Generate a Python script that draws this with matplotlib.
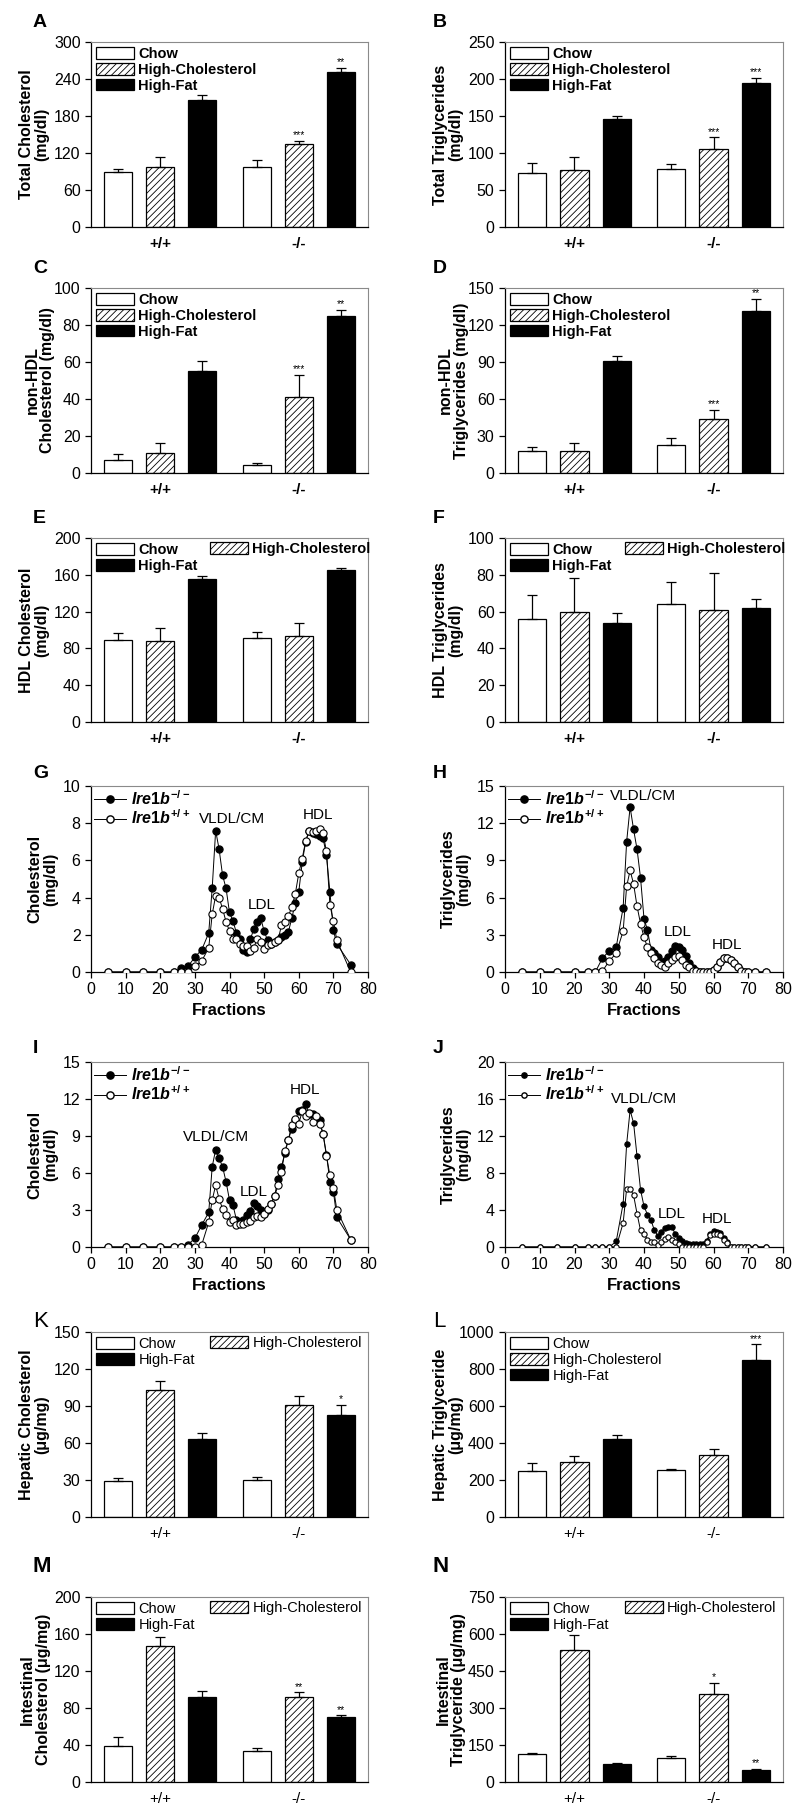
import matplotlib
matplotlib.use('Agg')
import matplotlib.pyplot as plt
from matplotlib.patches import Patch
from matplotlib.lines import Line2D
import numpy as np

BASE = ['Liberation Sans', 'DejaVu Sans']
plt.rcParams['font.family'] = BASE
plt.rcParams['hatch.linewidth'] = 0.6
plt.rcParams['mathtext.fontset'] = 'custom'
plt.rcParams['mathtext.it'] = 'Liberation Sans:italic:bold'
plt.rcParams['mathtext.rm'] = 'Liberation Sans:bold'
plt.rcParams['mathtext.bf'] = 'Liberation Sans:bold'

diets = ['Chow', 'High-Cholesterol', 'High-Fat']
genotypes = ['+/+', '-/-']

# bar data, order: +/+ Chow, HC, HF, -/- Chow, HC, HF
tc_mean = [90, 98, 206, 97, 134, 252]
tc_err = [4, 15, 8, 11, 6, 6]
tc_sig = ['', '', '', '', '***', '**']

tg_mean = [73, 77, 146, 78, 105, 195]
tg_err = [13, 17, 4, 7, 16, 7]
tg_sig = ['', '', '', '', '***', '***']

nhdl_c_mean = [7, 11, 55, 4.5, 41, 85]
nhdl_c_err = [3.5, 5, 5.5, 1, 12, 3]
nhdl_c_sig = ['', '', '', '', '***', '**']

nhdl_tg_mean = [18, 18, 91, 23, 44, 131]
nhdl_tg_err = [3, 6, 4, 5, 7, 10]
nhdl_tg_sig = ['', '', '', '', '***', '**']

hdl_c_mean = [89, 88, 155, 91, 93, 165]
hdl_c_err = [8, 14, 4, 7, 15, 2]

hdl_tg_mean = [56, 60, 54, 64, 61, 62]
hdl_tg_err = [13, 18, 5, 12, 20, 5]

hep_c_mean = [29, 103, 63, 30, 91, 83]
hep_c_err = [3, 7, 5, 2.5, 7, 8]
hep_c_sig = ['', '', '', '', '', '*']

hep_tg_mean = [250, 300, 420, 255, 335, 848]
hep_tg_err = [42, 28, 22, 3, 32, 85]
hep_tg_sig = ['', '', '', '', '', '***']

int_c_mean = [39, 147, 92, 34, 92, 70]
int_c_err = [10, 10, 6, 2.5, 5, 2]
int_c_sig = ['', '', '', '', '**', '**']

int_tg_mean = [113, 535, 72, 97, 355, 50]
int_tg_err = [6, 62, 5, 10, 48, 3]
int_tg_sig = ['', '', '', '', '*', '**']

# FPLC profiles
frac_g = [5, 10, 15, 20, 24, 26, 28, 30, 32, 34, 35, 36, 37, 38, 39, 40, 41, 42, 43,
          44, 45, 46, 47, 48, 49, 50, 51, 52, 53, 54, 55, 56, 57, 58, 59, 60, 61, 62,
          63, 64, 65, 66, 67, 68, 69, 70, 71, 75]
g_ko = [0, 0, 0, 0, 0, 0.2, 0.3, 0.8, 1.2, 2.1, 4.5, 7.6, 6.6, 5.2, 4.5, 3.2, 2.75, 2.1,
        1.8, 1.2, 1.05, 1.75, 2.3, 2.7, 2.9, 2.2, 1.7, 1.5, 1.6, 1.7, 1.9, 2.0, 2.15, 2.9,
        3.7, 4.3, 5.9, 7.0, 7.6, 7.45, 7.4, 7.3, 7.2, 6.3, 4.3, 2.25, 1.5, 0.4]
g_wt = [0, 0, 0, 0, 0, 0, 0, 0.3, 0.6, 1.3, 3.1, 4.1, 4.0, 3.4, 2.7, 2.2, 1.8, 1.75,
        1.5, 1.4, 1.4, 1.15, 1.3, 1.8, 1.6, 1.25, 1.45, 1.5, 1.6, 1.7, 2.5, 2.7, 3.0, 3.5,
        4.2, 5.3, 6.1, 7.05, 7.6, 7.55, 7.6, 7.7, 7.45, 6.5, 3.6, 2.75, 1.7, 0]

frac_h = [5, 10, 15, 20, 24, 26, 28, 30, 32, 34, 35, 36, 37, 38, 39, 40, 41, 42, 43,
          44, 45, 46, 47, 48, 49, 50, 51, 52, 53, 54, 55, 56, 57, 58, 59, 60, 61, 62,
          63, 64, 65, 66, 67, 68, 69, 70, 72, 75]
h_ko = [0, 0, 0, 0, 0, 0, 1.1, 1.7, 2.0, 5.2, 10.5, 13.3, 11.5, 9.9, 7.6, 4.3, 3.4, 1.8,
        1.5, 1.2, 0.8, 0.9, 1.2, 1.7, 2.1, 2.0, 1.8, 1.3, 0.7, 0.3, 0.05, 0, 0, 0,
        0, 0.2, 0.4, 0.8, 1.1, 1.15, 1.0, 0.7, 0.4, 0.1, 0, 0, 0, 0]
h_wt = [0, 0, 0, 0, 0, 0, 0.05, 0.9, 1.5, 3.3, 6.9, 8.2, 7.1, 5.3, 3.9, 2.8, 2.0, 1.5,
        1.1, 0.75, 0.6, 0.4, 0.7, 1.0, 1.2, 1.3, 1.0, 0.6, 0.4, 0.1, 0.05, 0, 0, 0,
        0, 0.2, 0.4, 0.8, 1.1, 1.15, 1.0, 0.7, 0.4, 0.1, 0, 0, 0, 0]

frac_i = frac_g
i_ko = [0, 0, 0, 0, 0, 0, 0.2, 0.7, 1.8, 2.8, 6.5, 7.9, 7.2, 6.5, 5.3, 3.8, 3.4, 2.2,
        2.0, 2.2, 2.6, 2.9, 3.6, 3.3, 3.0, 2.7, 3.0, 3.5, 4.1, 5.5, 6.5, 7.6, 8.7, 9.6,
        10.3, 11.0, 11.1, 11.6, 10.8, 10.8, 10.3, 10.3, 9.2, 7.5, 5.3, 4.5, 2.4, 0.6]
i_wt = [0, 0, 0, 0, 0, 0, 0, 0, 0.2, 2.0, 3.8, 5.0, 3.9, 3.1, 2.6, 2.0, 2.2, 1.8,
        1.9, 1.9, 2.0, 2.1, 2.4, 2.5, 2.4, 2.7, 3.1, 3.5, 4.1, 5.0, 6.1, 7.8, 8.7, 9.9,
        10.4, 10.0, 11.0, 10.6, 10.9, 10.1, 10.6, 10.0, 9.2, 7.4, 5.8, 4.8, 3.0, 0.6]

frac_j = frac_h
j_ko = [0, 0, 0, 0, 0, 0, 0, 0, 0.6, 4.7, 11.1, 14.8, 13.4, 9.8, 6.2, 4.4, 3.5, 2.9,
        1.8, 1.2, 1.6, 2.1, 2.2, 2.2, 1.4, 1.0, 0.6, 0.4, 0.3, 0.3, 0.3, 0.3, 0.3, 0.7,
        1.4, 1.7, 1.6, 1.5, 1.0, 0.5, 0, 0, 0, 0, 0, 0, 0, 0]
j_wt = [0, 0, 0, 0, 0, 0, 0, 0, 0, 2.6, 6.3, 6.3, 5.6, 3.6, 1.8, 1.4, 0.8, 0.5,
        0.5, 0.2, 0.5, 0.9, 1.1, 0.8, 0.5, 0.3, 0, 0, 0, 0, 0, 0, 0, 0.5,
        1.3, 1.4, 1.4, 1.3, 0.8, 0.4, 0, 0, 0, 0, 0, 0, 0, 0]

W, H = 800, 1812
fig = plt.figure(figsize=(W / 100, H / 100), dpi=100)

COLS = [(91, 368), (505, 783)]
ROWS = [(42, 227), (288, 473), (538, 722), (786, 972), (1062, 1247), (1332, 1517), (1597, 1782)]
LETTER_Y = [27, 273, 523, 778, 1053, 1327, 1572]
LETTER_X = [33, 433]

pos = [0, 1, 2, 3.29, 4.29, 5.29]
FRAME = '#8a8a8a'


def make_axes(row, col):
    l, r = COLS[col]
    t, b = ROWS[row]
    return fig.add_axes([l / W, 1 - b / H, (r - l) / W, (b - t) / H])


def letter(row, col, s, size=14, weight='bold'):
    fig.text(LETTER_X[col] / W, 1 - LETTER_Y[row] / H, s, fontsize=size,
             fontweight=weight, va='baseline', ha='left')


def style_frame(ax):
    ax.spines['top'].set_color(FRAME)
    ax.spines['right'].set_color(FRAME)
    for s in ['left', 'bottom']:
        ax.spines[s].set_linewidth(0.9)


def bar_panel(ax, means, errs, sig, ymax, ystep, ylabel, ncol, labx, plain=False):
    faces = ['white', 'white', 'black'] * 2
    hatches = ['', '/////', ''] * 2
    for i in range(6):
        ax.bar(pos[i], means[i], width=0.667, color=faces[i], edgecolor='black',
               hatch=hatches[i], linewidth=0.9, zorder=2)
    ax.errorbar(pos, means, yerr=[np.zeros(6), errs], fmt='none', ecolor='black',
                elinewidth=0.9, capsize=3.5, capthick=0.9, zorder=3)
    for i, s in enumerate(sig):
        if s:
            ax.annotate(s, (pos[i], means[i] + errs[i]), xytext=(0, 0.5),
                        textcoords='offset points', ha='center', va='bottom', fontsize=7.5)
    ax.set_xlim(-0.64, 5.93)
    ax.set_ylim(0, ymax)
    ax.set_yticks(np.arange(0, ymax + ystep / 2, ystep))
    ax.set_xticks([1, 4.29])
    ax.set_xticklabels(genotypes, fontweight='normal' if plain else 'bold', fontsize=11)
    ax.tick_params(axis='x', length=0, pad=7)
    ax.tick_params(axis='y', direction='out', length=4, width=0.9, labelsize=11.5)
    ax.set_ylabel(ylabel, fontsize=11.5, fontweight='bold', linespacing=1.05)
    ax.yaxis.set_label_coords(labx, 0.5)
    style_frame(ax)

    hd = {'Chow': Patch(facecolor='white', edgecolor='black', linewidth=0.9),
          'High-Cholesterol': Patch(facecolor='white', edgecolor='black', hatch='/////', linewidth=0.9),
          'High-Fat': Patch(facecolor='black', edgecolor='black', linewidth=0.9)}
    prop = {'size': 10.5, 'weight': 'normal' if plain else 'bold'}
    kw = dict(frameon=False, prop=prop, handlelength=2.6, handleheight=0.85,
              handletextpad=0.3, labelspacing=0.12, borderaxespad=0.25, borderpad=0.1)
    if ncol == 1:
        ax.legend([hd[k] for k in diets], diets, loc='upper left', **kw)
    else:
        first = ['Chow', 'High-Fat']
        leg = ax.legend([hd[k] for k in first], first, loc='upper left', **kw)
        ax.add_artist(leg)
        kw['borderaxespad'] = 0
        ax.legend([hd['High-Cholesterol']], ['High-Cholesterol'], loc='upper left',
                  bbox_to_anchor=(0.425, 0.985), **kw)


def line_panel(ax, x, ko, wt, ymax, ystep, ylabel, ms, notes):
    ax.plot(x, ko, '-o', color='black', lw=0.7, ms=ms, mfc='black', mec='black',
            mew=0.8, zorder=3)
    ax.plot(x, wt, '-o', color='black', lw=0.7, ms=ms, mfc='white', mec='black',
            mew=0.8, zorder=4)
    ax.set_xlim(0, 80)
    ax.set_ylim(0, ymax)
    ax.set_xticks(np.arange(0, 81, 10))
    ax.set_yticks(np.arange(0, ymax + ystep / 2, ystep))
    ax.tick_params(direction='out', length=4, width=0.9, labelsize=11.5)
    ax.set_xlabel('Fractions', fontsize=12, fontweight='bold', labelpad=4)
    ax.set_ylabel(ylabel, fontsize=11.5, fontweight='bold', linespacing=1.05)
    ax.yaxis.set_label_coords(-0.12, 0.5)
    style_frame(ax)
    for txt, (nx, ny) in notes.items():
        ax.text(nx, ny, txt, ha='center', va='center', fontsize=11)
    h1 = Line2D([], [], color='black', lw=0.7, marker='o', ms=ms, mfc='black', mec='black')
    h2 = Line2D([], [], color='black', lw=0.7, marker='o', ms=ms, mfc='white', mec='black')
    ax.legend([h1, h2], [r'$\mathit{Ire1b}^{-/-}$', r'$\mathit{Ire1b}^{+/+}$'],
              loc='upper left', frameon=False, fontsize=11.5, handlelength=2.0,
              handletextpad=0.3, labelspacing=0.05, borderaxespad=0.15, borderpad=0.05)


# row 1
ax = make_axes(0, 0)
bar_panel(ax, tc_mean, tc_err, tc_sig, 300, 60, 'Total Cholesterol\n(mg/dl)', 1, -0.15)
letter(0, 0, 'A')
ax = make_axes(0, 1)
bar_panel(ax, tg_mean, tg_err, tg_sig, 250, 50, 'Total Triglycerides\n(mg/dl)', 1, -0.15)
letter(0, 1, 'B')

# row 2
ax = make_axes(1, 0)
bar_panel(ax, nhdl_c_mean, nhdl_c_err, nhdl_c_sig, 100, 20, 'non-HDL\nCholesterol (mg/dl)', 1, -0.13)
letter(1, 0, 'C')
ax = make_axes(1, 1)
bar_panel(ax, nhdl_tg_mean, nhdl_tg_err, nhdl_tg_sig, 150, 30, 'non-HDL\nTriglycerides (mg/dl)', 1, -0.13)
letter(1, 1, 'D')

# row 3
ax = make_axes(2, 0)
bar_panel(ax, hdl_c_mean, hdl_c_err, [''] * 6, 200, 40, 'HDL Cholesterol\n(mg/dl)', 2, -0.15)
letter(2, 0, 'E')
ax = make_axes(2, 1)
bar_panel(ax, hdl_tg_mean, hdl_tg_err, [''] * 6, 100, 20, 'HDL Triglycerides\n(mg/dl)', 2, -0.15)
letter(2, 1, 'F')

# row 4
ax = make_axes(3, 0)
line_panel(ax, frac_g, g_ko, g_wt, 10, 2, 'Cholesterol\n(mg/dl)', 5.2,
           {'VLDL/CM': (40.7, 8.2), 'LDL': (49.3, 3.6), 'HDL': (65.6, 8.45)})
letter(3, 0, 'G')
ax = make_axes(3, 1)
line_panel(ax, frac_h, h_ko, h_wt, 15, 3, 'Triglycerides\n(mg/dl)', 5.2,
           {'VLDL/CM': (39.6, 14.2), 'LDL': (49.7, 3.2), 'HDL': (63.9, 2.15)})
letter(3, 1, 'H')

# row 5
ax = make_axes(4, 0)
line_panel(ax, frac_i, i_ko, i_wt, 15, 3, 'Cholesterol\n(mg/dl)', 5.2,
           {'VLDL/CM': (36.1, 8.9), 'LDL': (46.9, 4.5), 'HDL': (61.8, 12.7)})
letter(4, 0, 'I')
ax = make_axes(4, 1)
line_panel(ax, frac_j, j_ko, j_wt, 20, 4, 'Triglycerides\n(mg/dl)', 3.8,
           {'VLDL/CM': (39.9, 16.0), 'LDL': (48.1, 3.6), 'HDL': (60.9, 3.0)})
letter(4, 1, 'J')

# row 6
ax = make_axes(5, 0)
bar_panel(ax, hep_c_mean, hep_c_err, hep_c_sig, 150, 30, 'Hepatic Cholesterol\n(\u03bcg/mg)', 2, -0.15, plain=True)
letter(5, 0, 'K', size=16, weight='normal')
ax = make_axes(5, 1)
bar_panel(ax, hep_tg_mean, hep_tg_err, hep_tg_sig, 1000, 200, 'Hepatic Triglyceride\n(\u03bcg/mg)', 1, -0.15, plain=True)
letter(5, 1, 'L', size=16, weight='normal')

# row 7
ax = make_axes(6, 0)
bar_panel(ax, int_c_mean, int_c_err, int_c_sig, 200, 40, 'Intestinal\nCholesterol (\u03bcg/mg)', 2, -0.145, plain=True)
letter(6, 0, 'M', size=16)
ax = make_axes(6, 1)
bar_panel(ax, int_tg_mean, int_tg_err, int_tg_sig, 750, 150, 'Intestinal\nTriglyceride (\u03bcg/mg)', 2, -0.14, plain=True)
letter(6, 1, 'N', size=16)

fig.savefig('out.png', dpi=100)
